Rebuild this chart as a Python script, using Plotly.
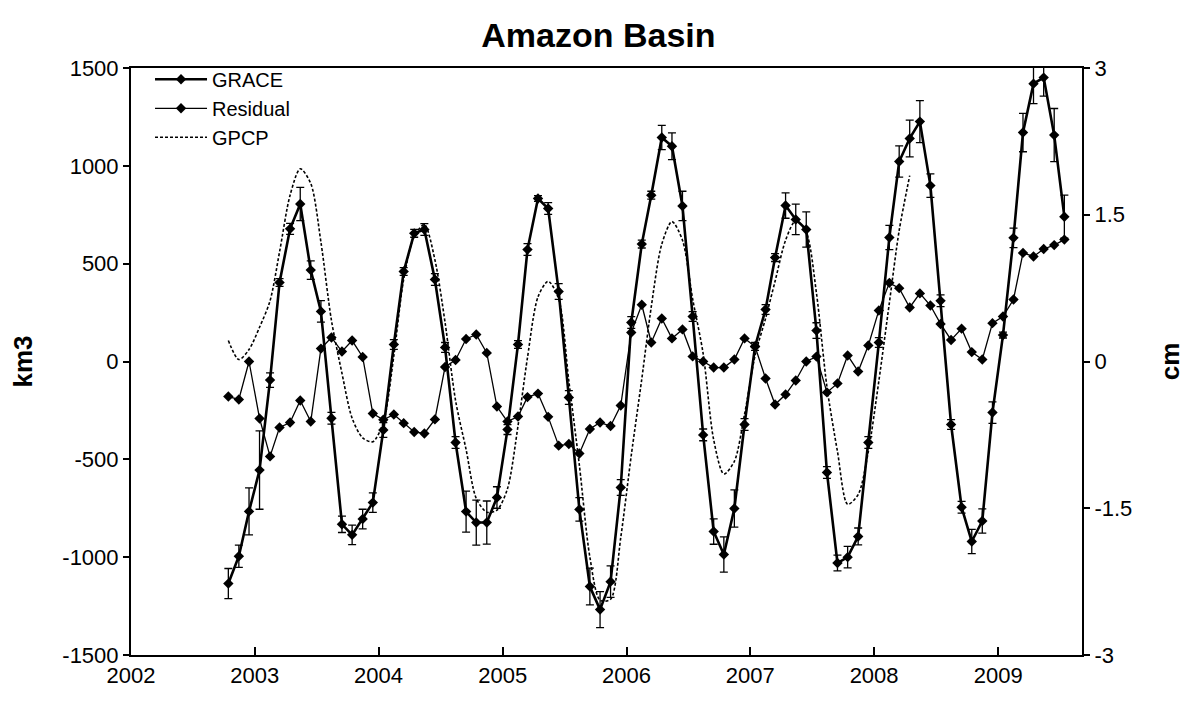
import plotly.graph_objects as go

# ---- data ----
start_year, start_month, n_months = 2002, 10, 82
months = []
y_, m_ = start_year, start_month
for _ in range(n_months):
    months.append(f"{y_:04d}-{m_:02d}-15")
    m_ += 1
    if m_ > 12:
        m_ = 1
        y_ += 1

grace = [-1135, -995, -766, -555, -95, 404, 678, 805, 467, 256, -290, -832,
         -886, -805, -721, -350, 87, 460, 655, 675, 419, 72, -414, -767,
         -823, -823, -695, -348, 87, 572, 833, 782, 358, -184, -756, -1150,
         -1268, -1125, -644, 199, 600, 850, 1145, 1100, 795, 230, -375, -869,
         -986, -751, -322, 77, 266, 531, 797, 726, 675, 158, -567, -1030,
         -1000, -894, -414, 97, 634, 1022, 1140, 1226, 899, 310, -322, -745,
         -920, -815, -261, 135, 632, 1170, 1420, 1451, 1157, 740]

grace_err = [77, 57, 120, 200, 37, 20, 28, 85, 47, 55, 30, 42,
             50, 50, 50, 38, 25, 20, 20, 30, 30, 25, 30, 105,
             115, 110, 55, 25, 20, 30, 15, 30, 40, 35, 60, 94,
             92, 80, 40, 30, 20, 20, 62, 68, 75, 25, 30, 65,
             90, 95, 30, 20, 25, 20, 65, 78, 90, 40, 30, 40,
             55, 43, 30, 25, 62, 80, 94, 107, 60, 30, 25, 30,
             62, 62, 55, 15, 50, 98, 102, 95, 136, 110]

residual = [-179, -194, 0, -291, -485, -337, -312, -199, -307, 66, 123, 51,
            107, 23, -266, -298, -271, -315, -360, -368, -296, -28, 8, 115,
            138, 44, -230, -307, -281, -182, -164, -283, -430, -422, -470, -345,
            -312, -330, -225, 148, 290, 97, 220, 118, 164, 26, 0, -31,
            -31, 10, 118, 77, -87, -220, -169, -97, 0, 25, -158, -112,
            31, -51, 82, 261, 402, 375, 276, 348, 286, 192, 110, 168,
            48, 10, 196, 230, 317, 555, 537, 575, 595, 623]

gpcp = [107, 10, 61, 175, 310, 560, 850, 985, 910, 610, 210, -60,
        -290, -390, -410, -312, 30, 420, 640, 700, 520, 200, -200, -450,
        -700, -770, -760, -650, -330, 20, 330, 410, 320, -100, -530, -1000,
        -1220, -1215, -900, -480, -90, 280, 600, 715, 620, 320, 40, -400,
        -575, -510, -270, 30, 220, 410, 620, 720, 660, 350, -130, -460,
        -730, -680, -460, -100, 300, 670, 950]

year_ticks = [f"{yr}-01-01" for yr in range(2002, 2010)]
year_labels = [str(yr) for yr in range(2002, 2010)]
km3_ticks = [-1500, -1000, -500, 0, 500, 1000, 1500]
km3_labels = ["-1500", "-1000", "-500", "0", "500", "1000", "1500"]
cm_ticks = [-3, -1.5, 0, 1.5, 3]
cm_labels = ["-3", "-1.5", "0", "1.5", "3"]

FONT = "Arial, 'Liberation Sans', sans-serif"

fig = go.Figure()

fig.add_trace(go.Scatter(
    x=months[:len(gpcp)], y=gpcp, name="GPCP", mode="lines",
    line=dict(color="black", width=1.6, dash="3px,2px", shape="spline", smoothing=0.8),
    legendrank=3,
))
fig.add_trace(go.Scatter(
    x=months, y=residual, name="Residual", mode="lines+markers",
    line=dict(color="black", width=1.3),
    marker=dict(symbol="diamond", size=8, color="black"),
    legendrank=2,
))
fig.add_trace(go.Scatter(
    x=months, y=grace, name="GRACE", mode="lines+markers",
    line=dict(color="black", width=2.6),
    marker=dict(symbol="diamond", size=8, color="black"),
    error_y=dict(type="data", array=grace_err, visible=True,
                 color="black", thickness=1.3, width=4),
    legendrank=1,
))
# empty trace so the right-hand (cm) axis is drawn
fig.add_trace(go.Scatter(x=[], y=[], yaxis="y2", showlegend=False, hoverinfo="skip"))

fig.update_layout(
    template="none",
    width=1185, height=709,
    margin=dict(l=131, r=103, t=68, b=54, autoexpand=False),
    paper_bgcolor="white", plot_bgcolor="white",
    font=dict(family=FONT, color="black", size=22),
    title=dict(text="<b>Amazon Basin</b>", x=0.505, xanchor="center",
               y=1 - 35 / 709, yanchor="middle",
               font=dict(family=FONT, size=34, color="black")),
    showlegend=True,
    legend=dict(x=0.02, y=1.014, xanchor="left", yanchor="top",
                bgcolor="rgba(0,0,0,0)", borderwidth=0,
                font=dict(family=FONT, size=20),
                tracegroupgap=0, itemwidth=52),
    xaxis=dict(
        type="date", range=["2002-01-01", "2009-09-05"],
        tickvals=year_ticks, ticktext=year_labels,
        showgrid=False, zeroline=False, automargin=False,
        showline=True, linecolor="black", linewidth=2, mirror=True,
        ticks="inside", ticklen=8, tickwidth=1.5, tickcolor="black",
        tickfont=dict(size=22),
    ),
    yaxis=dict(
        range=[-1500, 1500], tickvals=km3_ticks, ticktext=km3_labels,
        showgrid=False, zeroline=False, automargin=False,
        showline=True, linecolor="black", linewidth=2,
        ticks="outside", ticklen=6, tickwidth=1.5, tickcolor="black",
        tickfont=dict(size=22),
        title=dict(text="<b>km3</b>", font=dict(size=26), standoff=22),
    ),
    yaxis2=dict(
        overlaying="y", side="right", anchor="x", automargin=False,
        range=[-3, 3], tickvals=cm_ticks, ticktext=cm_labels,
        showgrid=False, zeroline=False,
        showline=True, linecolor="black", linewidth=2,
        ticks="outside", ticklen=6, tickwidth=1.5, tickcolor="black",
        tickfont=dict(size=22),
        title=dict(text="<b>cm</b>", font=dict(size=26), standoff=40),
    ),
)

fig.write_html("out.html", config={"displayModeBar": False},
               post_script="document.body.style.margin='0';")
